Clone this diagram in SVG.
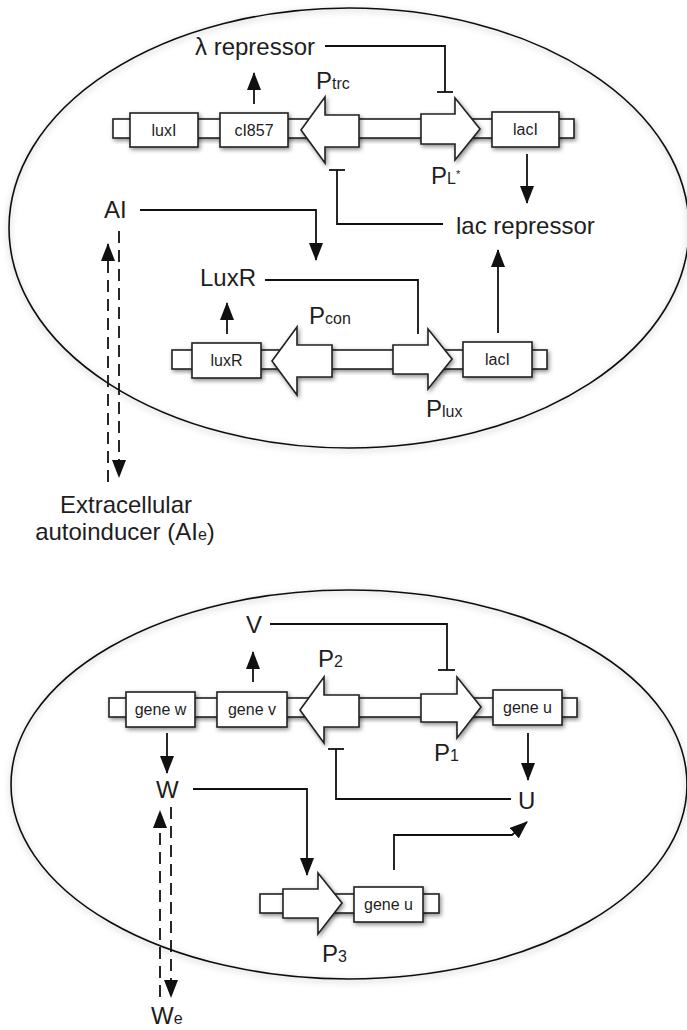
<svg xmlns="http://www.w3.org/2000/svg" width="687" height="1030" viewBox="0 0 687 1030">
<defs>
<style>
.t{font-family:"Liberation Sans",Arial,Helvetica,sans-serif;fill:#1e1e1e;font-size:24px}
.g{font-family:"Liberation Sans",Arial,Helvetica,sans-serif;fill:#1e1e1e;font-size:16px;text-anchor:middle}
.s{font-size:16px}
.c{fill:none;stroke:#111;stroke-width:1.8}
.d{fill:none;stroke:#111;stroke-width:1.8;stroke-dasharray:12,7}
.b{fill:#fff;stroke:#222;stroke-width:1.6;filter:url(#sh)}
.cell{fill:none;stroke:#111;stroke-width:1.6;filter:url(#esh)}
</style>
<filter id="sh" x="-30%" y="-30%" width="160%" height="160%"><feDropShadow dx="1.5" dy="2" stdDeviation="2" flood-color="#000" flood-opacity="0.45"/></filter>
<filter id="esh" x="-10%" y="-10%" width="120%" height="120%"><feDropShadow dx="0" dy="2" stdDeviation="3" flood-color="#000" flood-opacity="0.3"/></filter>
<marker id="ah" markerUnits="userSpaceOnUse" markerWidth="18" markerHeight="14" refX="17" refY="7" orient="auto"><path d="M0,0 L18,7 L0,14 z" fill="#111"/></marker>
</defs>
<rect width="687" height="1030" fill="#fff"/>

<g id="cell1"><ellipse class="cell" cx="349" cy="228" rx="340" ry="220"/></g>
<g id="cell2"><ellipse class="cell" cx="349" cy="784.5" rx="338" ry="194.5"/></g>

<!-- top cell, upper operon -->
<g id="backbone1"><rect class="b" x="113" y="119" width="461" height="19"/></g>
<g id="luxI"><rect class="b" x="130" y="113" width="68" height="34"/><text class="g" x="164" y="136">luxI</text></g>
<g id="cI857"><rect class="b" x="220" y="113" width="68" height="34"/><text class="g" x="254" y="136">cI857</text></g>
<g id="Ptrc"><polygon class="b" points="301,130 325,97 325,115 359,115 359,147 325,147 325,163"/><text class="t" x="316" y="89">P<tspan class="s">trc</tspan></text></g>
<g id="PL"><polygon class="b" points="421,114 455,114 455,98 480,129 455,160 455,144 421,144"/><text class="t" x="431" y="184">P<tspan class="s">L</tspan><tspan font-size="11" dy="-6">*</tspan></text></g>
<g id="lacI1"><rect class="b" x="492" y="112" width="67" height="35"/><text class="g" x="525.5" y="135">lacI</text></g>

<!-- top cell, lower operon -->
<g id="backbone2"><rect class="b" x="172" y="350" width="375" height="19"/></g>
<g id="luxR"><rect class="b" x="192" y="343" width="69" height="35"/><text class="g" x="226.5" y="366">luxR</text></g>
<g id="Pcon"><polygon class="b" points="272,361 297,327 297,345 332,345 332,377 297,377 297,395"/><text class="t" x="309" y="324">P<tspan class="s">con</tspan></text></g>
<g id="Plux"><polygon class="b" points="393,345 428,345 428,329 452,359 428,389 428,374 393,374"/><text class="t" x="426" y="417">P<tspan class="s">lux</tspan></text></g>
<g id="lacI2"><rect class="b" x="463" y="342" width="69" height="35"/><text class="g" x="497.5" y="365">lacI</text></g>

<g id="lambda"><text class="t" x="195" y="55">λ repressor</text></g>
<g id="lacrep"><text class="t" x="456" y="234">lac repressor</text></g>
<g id="AI"><text class="t" x="104" y="218">AI</text></g>
<g id="LuxRp"><text class="t" x="200" y="286">LuxR</text></g>
<g id="AIe"><text class="t" x="126" y="513" text-anchor="middle">Extracellular</text><text class="t" x="125" y="540" text-anchor="middle">autoinducer (AI<tspan class="s">e</tspan>)</text></g>

<!-- bottom cell -->
<g id="backbone3"><rect class="b" x="109" y="698" width="468" height="19"/></g>
<g id="genew"><rect class="b" x="126" y="692" width="69" height="35"/><text class="g" x="160.5" y="715">gene w</text></g>
<g id="genev"><rect class="b" x="217" y="692" width="70" height="35"/><text class="g" x="252" y="715">gene v</text></g>
<g id="P2"><polygon class="b" points="300,710 324,677 324,695 359,695 359,727 324,727 324,743"/><text class="t" x="318" y="667">P<tspan class="s">2</tspan></text></g>
<g id="P1"><polygon class="b" points="421,694 457,694 457,677 481,707 457,738 457,722 421,722"/><text class="t" x="434" y="761">P<tspan class="s">1</tspan></text></g>
<g id="geneu1"><rect class="b" x="493" y="690" width="69" height="35"/><text class="g" x="527.5" y="713">gene u</text></g>

<g id="backbone4"><rect class="b" x="260" y="894" width="179" height="19"/></g>
<g id="P3"><polygon class="b" points="283,889 318,889 318,873 342,903 318,934 318,918 283,918"/><text class="t" x="322" y="962">P<tspan class="s">3</tspan></text></g>
<g id="geneu2"><rect class="b" x="354" y="887" width="69" height="35"/><text class="g" x="388.5" y="910">gene u</text></g>

<g id="V"><text class="t" x="246" y="633">V</text></g>
<g id="W"><text class="t" x="156" y="798">W</text></g>
<g id="U"><text class="t" x="518" y="809">U</text></g>
<g id="We"><text class="t" x="151" y="1024">W<tspan class="s">e</tspan></text></g>

<g id="connectors">
<!-- top cell -->
<path class="c" d="M325,46 H445 V92"/><line class="c" x1="437" y1="92" x2="453" y2="92"/>
<path class="c" d="M254,104 V73" marker-end="url(#ah)"/>
<path class="c" d="M443,224 H337 V170"/><line class="c" x1="329" y1="170" x2="345" y2="170"/>
<path class="c" d="M527,154 V203" marker-end="url(#ah)"/>
<path class="c" d="M140,210 H316 V260" marker-end="url(#ah)"/>
<path class="c" d="M265,280 H418 V334"/>
<path class="c" d="M498,333 V250" marker-end="url(#ah)"/>
<path class="c" d="M227,334 V303" marker-end="url(#ah)"/>
<path class="d" d="M108,482 V244" marker-end="url(#ah)"/>
<path class="d" d="M119,231 V477" marker-end="url(#ah)"/>
<!-- bottom cell -->
<path class="c" d="M270,624 H447 V670"/><line class="c" x1="438" y1="670" x2="455" y2="670"/>
<path class="c" d="M253,682 V652" marker-end="url(#ah)"/>
<path class="c" d="M511,799 H336 V749"/><line class="c" x1="328" y1="749" x2="344" y2="749"/>
<path class="c" d="M528,733 V780" marker-end="url(#ah)"/>
<path class="c" d="M167,733 V773" marker-end="url(#ah)"/>
<path class="c" d="M193,789 H307 V875" marker-end="url(#ah)"/>
<path class="c" d="M394,870 V835 H512 L527,822" marker-end="url(#ah)"/>
<path class="d" d="M160,997 V811" marker-end="url(#ah)"/>
<path class="d" d="M171,807 V997" marker-end="url(#ah)"/>
</g>
</svg>
